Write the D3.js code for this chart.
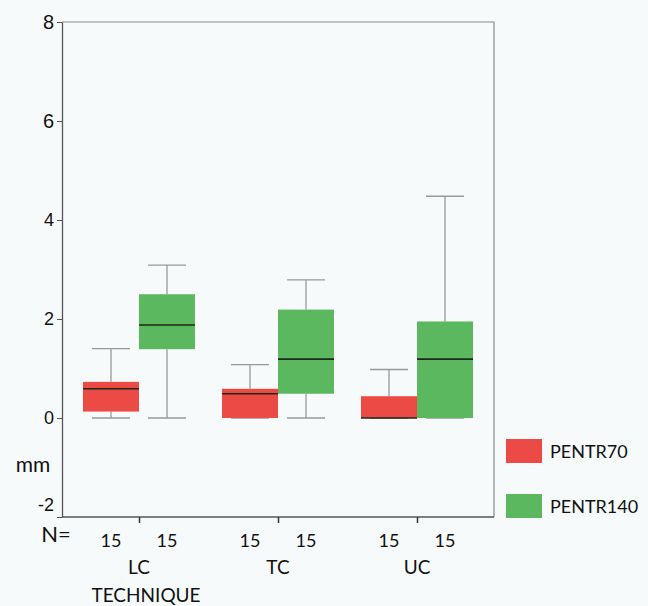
<!DOCTYPE html>
<html>
<head>
<meta charset="utf-8">
<script src="https://cdn.jsdelivr.net/npm/d3@7"></script>
<style>
  html, body { margin: 0; padding: 0; background: #f7fafb; }
  svg { display: block; font-family: Lato, "Open Sans", sans-serif; }
</style>
</head>
<body>
<div id="chart"></div>
<script>
// Data
const categories = ['LC', 'TC', 'UC'];
const seriesNames = ['PENTR70', 'PENTR140'];
const seriesColors = ['#ec4a45', '#5cb85f'];
const counts = [[15, 15], [15, 15], [15, 15]];
// [min, q1, median, q3, max] per category, per series
const pentr70 = [
  [0, 0.13, 0.59, 0.73, 1.4],
  [0, 0, 0.49, 0.59, 1.08],
  [0, 0, 0, 0.44, 0.98]
];
const pentr140 = [
  [0, 1.39, 1.88, 2.5, 3.09],
  [0, 0.49, 1.19, 2.19, 2.79],
  [0, 0, 1.19, 1.95, 4.48]
];
const yTicks = [-2, 0, 2, 4, 6, 8];

const width = 648, height = 606;
const margin = { left: 62, right: 154, top: 22, bottom: 89 };

const svg = d3.select('#chart').append('svg')
  .attr('width', width)
  .attr('height', height);

const x = d3.scalePoint()
  .domain(categories)
  .range([margin.left, width - margin.right])
  .padding(0.554);

const y = d3.scaleLinear()
  .domain([-2, 8])
  .range([height - margin.bottom, margin.top]);

const boxW = 56;
const capW = 38;

// Frame (top and right)
svg.append('path')
  .attr('d', `M${margin.left},${y(8)}H${width - margin.right}V${y(-2)}`)
  .attr('fill', 'none')
  .attr('stroke', '#8a8a8a')
  .attr('stroke-width', 1.2);

// Y axis
const yAxis = svg.append('g')
  .attr('transform', `translate(${margin.left},0)`)
  .call(d3.axisLeft(y).tickValues(yTicks).tickSize(5).tickSizeOuter(0).tickFormat(d => String(d)));
yAxis.select('.domain').attr('stroke', '#555').attr('stroke-width', 1.3);
yAxis.selectAll('.tick line').attr('stroke', '#555');
yAxis.selectAll('.tick text')
  .attr('fill', '#111')
  .attr('font-size', d => (d === 8 || d === 6) ? 20 : 18)
  .attr('x', -8)
  .attr('dy', d => d === -2 ? '-0.35em' : '0.32em');

// X axis
const xAxis = svg.append('g')
  .attr('transform', `translate(0,${y(-2)})`)
  .call(d3.axisBottom(x).tickSize(6).tickSizeOuter(0).tickFormat(''));
xAxis.select('.domain').attr('stroke', '#555').attr('stroke-width', 1.3)
  .attr('d', `M${margin.left},0H${width - margin.right}`);
xAxis.selectAll('.tick line').attr('stroke', '#333').attr('stroke-width', 1.5);

// Boxes
const series = [pentr70, pentr140];
series.forEach((data, s) => {
  const g = svg.append('g').attr('class', 'series-' + s);
  const items = data.map((d, i) => ({ cat: categories[i], v: d }));
  const cx = d => x(d.cat) + (s === 0 ? -boxW / 2 : boxW / 2);

  // whiskers
  g.selectAll('line.wlow').data(items).join('line')
    .attr('class', 'wlow')
    .attr('x1', cx).attr('x2', cx)
    .attr('y1', d => y(d.v[0])).attr('y2', d => y(d.v[1]))
    .attr('stroke', '#999').attr('stroke-width', 1.3);
  g.selectAll('line.whigh').data(items).join('line')
    .attr('class', 'whigh')
    .attr('x1', cx).attr('x2', cx)
    .attr('y1', d => y(d.v[3])).attr('y2', d => y(d.v[4]))
    .attr('stroke', '#999').attr('stroke-width', 1.3);
  // caps
  [0, 4].forEach(k => {
    g.selectAll('line.cap' + k).data(items).join('line')
      .attr('class', 'cap' + k)
      .attr('x1', d => cx(d) - capW / 2).attr('x2', d => cx(d) + capW / 2)
      .attr('y1', d => y(d.v[k])).attr('y2', d => y(d.v[k]))
      .attr('stroke', '#999').attr('stroke-width', 1.3);
  });
  // box
  g.selectAll('rect.box').data(items).join('rect')
    .attr('class', 'box')
    .attr('x', d => cx(d) - boxW / 2)
    .attr('width', boxW)
    .attr('y', d => y(d.v[3]))
    .attr('height', d => y(d.v[1]) - y(d.v[3]))
    .attr('fill', seriesColors[s]);
  // median
  g.selectAll('line.med').data(items).join('line')
    .attr('class', 'med')
    .attr('x1', d => cx(d) - boxW / 2).attr('x2', d => cx(d) + boxW / 2)
    .attr('y1', d => y(d.v[2])).attr('y2', d => y(d.v[2]))
    .attr('stroke', '#1b2a1b').attr('stroke-width', 1.6);

  // counts
  g.selectAll('text.n').data(items).join('text')
    .attr('class', 'n')
    .attr('x', cx)
    .attr('y', y(-2) + 30)
    .attr('text-anchor', 'middle')
    .attr('font-size', 18)
    .attr('fill', '#111')
    .text((d, i) => counts[i][s]);
});

// Labels
svg.append('text').attr('x', 56).attr('y', y(-2) + 25)
  .attr('font-size', 22).attr('fill', '#111').attr('text-anchor', 'middle').text('N=');
svg.selectAll('text.cat').data(categories).join('text')
  .attr('class', 'cat')
  .attr('x', d => x(d))
  .attr('y', y(-2) + 57)
  .attr('text-anchor', 'middle')
  .attr('font-size', 19)
  .attr('fill', '#111')
  .text(d => d);
svg.append('text').attr('x', 146).attr('y', y(-2) + 85)
  .attr('text-anchor', 'middle').attr('font-size', 19).attr('fill', '#111').text('TECHNIQUE');
svg.append('text').attr('x', 33).attr('y', y(-1) + 4)
  .attr('text-anchor', 'middle').attr('font-size', 21).attr('fill', '#111').text('mm');

// Legend
const legend = svg.append('g').attr('transform', 'translate(506,439)');
seriesNames.forEach((name, i) => {
  legend.append('rect')
    .attr('x', 0).attr('y', i * 55)
    .attr('width', 36).attr('height', 24)
    .attr('fill', seriesColors[i]);
  legend.append('text')
    .attr('x', 44).attr('y', i * 55 + 19)
    .attr('font-size', 18).attr('fill', '#111')
    .text(name);
});
</script>
</body>
</html>
